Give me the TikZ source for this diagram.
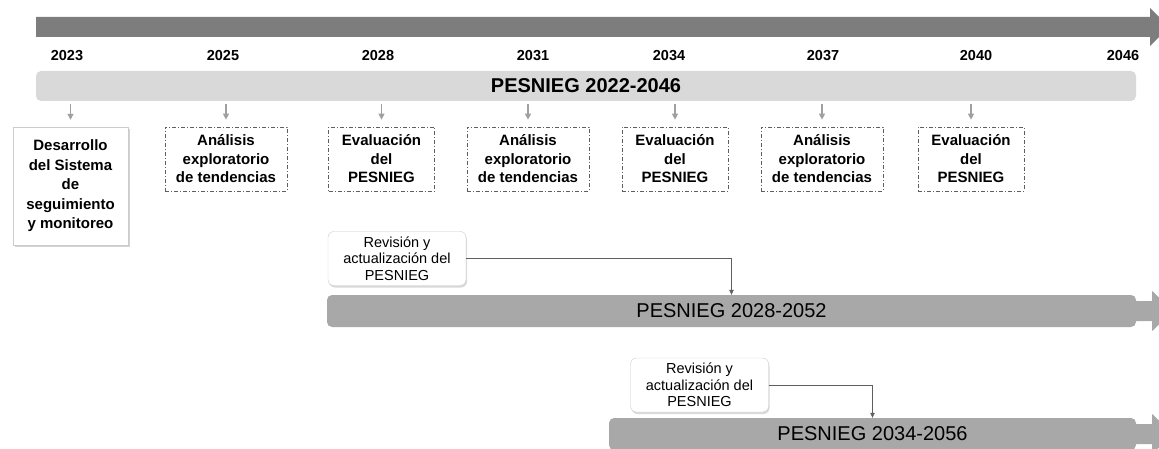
\documentclass[tikz,border=0pt]{standalone}
\usepackage{fontspec}
\setmainfont{Liberation Sans}
\usetikzlibrary{arrows.meta,shadows}
\definecolor{topgray}{RGB}{125,125,125}
\definecolor{plangray}{RGB}{217,217,217}
\definecolor{bargray}{RGB}{168,168,168}
\definecolor{tickgray}{RGB}{160,160,160}
\definecolor{edgegray}{RGB}{95,95,95}

\begin{document}
\begin{tikzpicture}[x=1pt,y=-1pt]
	 \tikzstyle{year}=[font=\bfseries\fontsize{14.5}{17}\selectfont]
	 \tikzstyle{plan}=[rectangle,rounded corners=5pt,fill=plangray,minimum width=1100pt,minimum height=30pt,font=\bfseries\fontsize{20}{23}\selectfont]
	 \tikzstyle{stage}=[rectangle,draw=edgegray,line width=0.7pt,dash pattern=on 4pt off 2pt on 1pt off 2pt,minimum height=64pt,align=center,inner sep=2pt,font=\bfseries\fontsize{15}{18.5}\selectfont]
	 \tikzstyle{eval}=[stage,minimum width=106pt]
	 \tikzstyle{anal}=[stage,minimum width=122pt]
	 \tikzstyle{start}=[rectangle,draw=black!20,fill=white,minimum width=115pt,minimum height=118pt,align=center,font=\bfseries\fontsize{15}{19.5}\selectfont,drop shadow={shadow xshift=1.5pt,shadow yshift=-2pt,opacity=0.35}]
	 \tikzstyle{review}=[rectangle,rounded corners=6pt,draw=black!20,fill=white,minimum width=138pt,minimum height=54pt,inner sep=2pt,align=center,font=\fontsize{14.5}{16.5}\selectfont,drop shadow={shadow xshift=1pt,shadow yshift=-2pt,opacity=0.3}]
	 \tikzstyle{bar}=[rectangle,rounded corners=5pt,fill=bargray,minimum height=32pt,font=\fontsize{20}{23}\selectfont]
	 \tikzstyle{tick}=[draw=tickgray,line width=1.2pt,-{Triangle[length=6pt,width=6pt]},shorten <=3pt,shorten >=7pt]
	 \tikzstyle{link}=[draw=edgegray,line width=0.6pt,-{Triangle[length=5pt,width=4.5pt]}]
	 \useasboundingbox (0,0) rectangle (1159,449);
	 \clip (0,0) rectangle (1159,449);
	 % time axis
	 \fill[topgray] (36,17) -- (1150,17) -- (1150,8) -- (1169,27) -- (1150,46) -- (1150,37) -- (36,37) -- cycle;
	 \node[year] (y2023) at (67,56) {2023};
	 \node[year] (y2025) at (223,56) {2025};
	 \node[year] (y2028) at (378,56) {2028};
	 \node[year] (y2031) at (533,56) {2031};
	 \node[year] (y2034) at (669,56) {2034};
	 \node[year] (y2037) at (823,56) {2037};
	 \node[year] (y2040) at (976,56) {2040};
	 \node[year] (y2046) at (1123,56) {2046};
	 \node[plan] (plan) at (586,86) {PESNIEG 2022-2046};
	 % stages
	 \node[start] (desa) at (70.5,186) {Desarrollo\\del Sistema\\de\\seguimiento\\y monitoreo};
	 \node[anal] (ana1) at (226,159) {Análisis\\exploratorio\\de tendencias};
	 \node[eval] (eva1) at (381.5,159) {Evaluación\\del\\PESNIEG};
	 \node[anal] (ana2) at (528,159) {Análisis\\exploratorio\\de tendencias};
	 \node[eval] (eva2) at (675,159) {Evaluación\\del\\PESNIEG};
	 \node[anal] (ana3) at (822,159) {Análisis\\exploratorio\\de tendencias};
	 \node[eval] (eva3) at (971,159) {Evaluación\\del\\PESNIEG};
	 \draw[tick] (desa.north |- plan.south) -- (desa.north);
	 \draw[tick] (ana1.north |- plan.south) -- (ana1.north);
	 \draw[tick] (eva1.north |- plan.south) -- (eva1.north);
	 \draw[tick] (ana2.north |- plan.south) -- (ana2.north);
	 \draw[tick] (eva2.north |- plan.south) -- (eva2.north);
	 \draw[tick] (ana3.north |- plan.south) -- (ana3.north);
	 \draw[tick] (eva3.north |- plan.south) -- (eva3.north);
	 % following plans
	 \node[bar,minimum width=809pt] (bar2) at (731.5,311) {PESNIEG 2028-2052};
	 \fill[bargray] ([xshift=-3pt,yshift=10pt]bar2.east) -- ++(19,0) -- ++(0,-10) -- ++(21,20) -- ++(-21,20) -- ++(0,-10) -- ++(-19,0) -- cycle;
	 \node[review] (rev1) at (397,258.5) {Revisión y\\actualización del\\PESNIEG};
	 \draw[link] (rev1.east) -| (bar2.north);
	 \node[bar,minimum width=527pt] (bar3) at (872.5,434) {PESNIEG 2034-2056};
	 \fill[bargray] ([xshift=-3pt,yshift=10pt]bar3.east) -- ++(19,0) -- ++(0,-10) -- ++(21,20) -- ++(-21,20) -- ++(0,-10) -- ++(-19,0) -- cycle;
	 \node[review] (rev2) at (699.5,385) {Revisión y\\actualización del\\PESNIEG};
	 \draw[link] (rev2.east) -| (bar3.north);
 \end{tikzpicture}
\end{document}
